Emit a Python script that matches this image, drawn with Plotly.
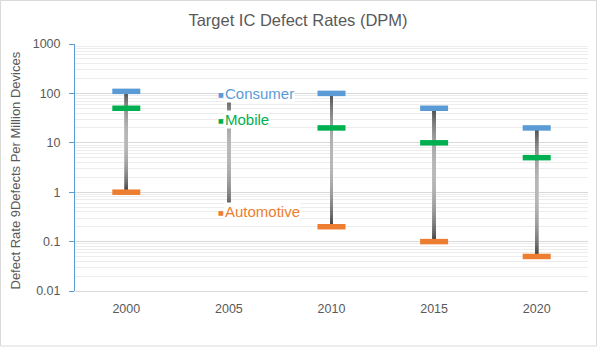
import numpy as np
import plotly.graph_objects as go

years = [2000, 2005, 2010, 2015, 2020]
consumer = [110, 100, 100, 50, 20]
mobile = [50, 30, 20, 10, 5]
automotive = [1, 0.4, 0.2, 0.1, 0.05]
series_names = ["Consumer", "Mobile", "Automotive"]
series_colors = ["#5B9BD5", "#00B050", "#ED7D31"]
label_year = 2005
y_ticks = [0.01, 0.1, 1, 10, 100, 1000]
y_tick_text = ["0.01", "0.1", "1", "10", "100", "1000"]

FONT = "Liberation Sans, Arial, sans-serif"
TXT = "#595959"

fig = go.Figure()

# gradient high-low lines (dark ends, lighter middle), drawn as dense markers
N = 240
dark, light = 50, 185
for yr, hi, lo in zip(years, consumer, automotive):
    t = np.linspace(0, 1, N)
    ys = 10 ** (np.log10(hi) + (np.log10(lo) - np.log10(hi)) * t)
    g = (dark + (light - dark) * np.sin(np.pi * t) ** 0.6).astype(int)
    cols = [f"rgb({v},{v},{v})" for v in g]
    fig.add_trace(go.Scatter(
        x=[yr] * N, y=ys, mode="markers",
        marker=dict(symbol="square", size=3, color=cols, line=dict(width=0)),
        hoverinfo="skip", showlegend=False))

# caps (except label year)
for name, vals, col in zip(series_names, [consumer, mobile, automotive], series_colors):
    xs = [y for y in years if y != label_year]
    ys = [v for y, v in zip(years, vals) if y != label_year]
    fig.add_trace(go.Scatter(
        x=xs, y=ys, mode="markers", name=name, showlegend=False,
        marker=dict(symbol="line-ew", size=20, color=col,
                    line=dict(color=col, width=5.5))))

# labels at label year
li = years.index(label_year)
for name, vals, col in zip(series_names, [consumer, mobile, automotive], series_colors):
    fig.add_annotation(
        x=label_year, y=np.log10(vals[li]), xref="x", yref="y",
        text=name, showarrow=False, xanchor="left", yanchor="middle",
        xshift=-5, bgcolor="white", borderpad=0,
        font=dict(family=FONT, size=15, color=col))
    fig.add_annotation(
        x=label_year, y=np.log10(vals[li]), xref="x", yref="y",
        text="■", showarrow=False, xanchor="right", yanchor="middle",
        xshift=-4, yshift=-1, borderpad=0,
        font=dict(family="DejaVu Sans", size=6, color=col))

# y-axis title
fig.add_annotation(
    x=(15 - 75) / 513, y=(291 - 170.5) / 247, xref="paper", yref="paper",
    text="Defect Rate 9Defects Per Million Devices", textangle=-90,
    showarrow=False, xanchor="center", yanchor="middle",
    font=dict(family=FONT, size=13, color=TXT))

# outer border
fig.add_shape(type="rect", xref="paper", yref="paper",
              x0=(0.5 - 75) / 513, x1=(596.5 - 75) / 513,
              y0=(291 - 346) / 247, y1=(291 - 0.5) / 247,
              line=dict(color="#d9d9d9", width=1), fillcolor="rgba(0,0,0,0)",
              layer="below")

minor_vals = [m * 10 ** e for e in range(-2, 3) for m in range(2, 10)]

fig.update_layout(
    width=598, height=348,
    margin=dict(l=75, r=10, t=44, b=57),
    paper_bgcolor="white", plot_bgcolor="white",
    font=dict(family=FONT, color=TXT),
    title=dict(text="Target IC Defect Rates (DPM)", x=298 / 598, xanchor="center",
               y=1 - 20.5 / 348, yanchor="middle",
               font=dict(family=FONT, size=16.5, color=TXT)),
    xaxis=dict(range=[1997.5, 2022.5], tickvals=years,
               ticktext=[str(y) for y in years],
               showgrid=False, zeroline=False,
               showline=True, linecolor="#d9d9d9", linewidth=1,
               ticks="outside", ticklen=0, ticklabelstandoff=6,
               tickfont=dict(family=FONT, size=12.5, color=TXT)),
    yaxis=dict(type="log", range=[-2, 3], tickvals=y_ticks, ticktext=y_tick_text,
               showgrid=True, gridcolor="#d9d9d9", gridwidth=1.3,
               minor=dict(tickvals=minor_vals, showgrid=True,
                          gridcolor="#ececec", gridwidth=1, ticks=""),
               showline=True, linecolor="#5B9BD5", linewidth=1,
               ticks="outside", ticklen=5, tickcolor="#5B9BD5",
               ticklabelstandoff=6, zeroline=False,
               tickfont=dict(family=FONT, size=12.5, color=TXT)),
)

fig.write_html("out.html")
